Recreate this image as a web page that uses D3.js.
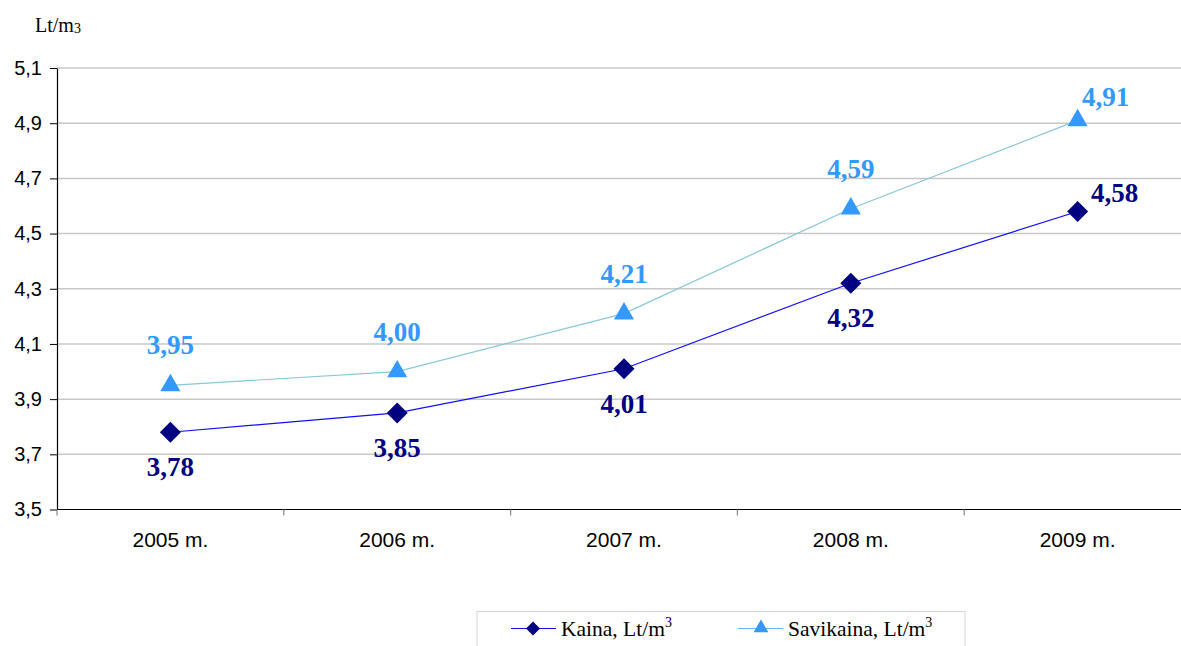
<!DOCTYPE html>
<html><head><meta charset="utf-8">
<script src="https://cdn.jsdelivr.net/npm/d3@7"></script>
<style>body{margin:0;background:#fff}svg{display:block}</style>
</head><body>
<svg id="c" width="1181" height="646"></svg>
<script>
const categories = ["2005 m.", "2006 m.", "2007 m.", "2008 m.", "2009 m."];
const kaina = [3.78, 3.85, 4.01, 4.32, 4.58];
const savikaina = [3.95, 4.00, 4.21, 4.59, 4.91];
const yTicks = [3.5, 3.7, 3.9, 4.1, 4.3, 4.5, 4.7, 4.9, 5.1];
const seriesNames = ["Kaina, Lt/m", "Savikaina, Lt/m"];

(function(){
const svg = d3.select("#c");
const pLeft = 57, pRight = 1191, pTop = 68, pBottom = 509.5;
const x = d3.scaleBand().domain(categories).range([pLeft, pRight]).padding(0);
const y = d3.scaleLinear().domain([3.5, 5.1]).range([pBottom, pTop]);
const fmt = v => v.toFixed(1).replace(".", ",");
const fmt2 = v => v.toFixed(2).replace(".", ",");
const sans = "'Liberation Sans', Arial, sans-serif";
const serif = "'Liberation Serif', 'Times New Roman', serif";

// gridlines
svg.append("g").selectAll("line").data(yTicks.filter(t => t > 3.5)).join("line")
  .attr("x1", pLeft).attr("x2", 1181).attr("y1", d => y(d)).attr("y2", d => y(d))
  .attr("stroke", "#c8c8c8").attr("stroke-width", 1.5);

// y axis
const ya = svg.append("g").attr("transform", `translate(${pLeft},0)`)
  .call(d3.axisLeft(y).tickValues(yTicks).tickFormat(fmt).tickSize(7).tickSizeOuter(0).tickPadding(8));
ya.select(".domain").attr("stroke", "#000").attr("stroke-width", 1.2);
ya.selectAll(".tick line").attr("stroke", "#000");
ya.selectAll("text").attr("font-family", sans).attr("font-size", 20).attr("fill", "#000");

// x axis
svg.append("line").attr("x1", pLeft).attr("x2", 1181).attr("y1", pBottom).attr("y2", pBottom)
  .attr("stroke", "#000").attr("stroke-width", 1.2);
const bounds = categories.map(c => x(c)).concat([x(categories[categories.length-1]) + x.bandwidth()]);
svg.append("g").selectAll("line").data(bounds).join("line")
  .attr("x1", d => d).attr("x2", d => d).attr("y1", pBottom).attr("y2", pBottom + 6)
  .attr("stroke", "#888").attr("stroke-width", 1.2);
svg.append("g").selectAll("text").data(categories).join("text")
  .attr("x", d => x(d) + x.bandwidth()/2).attr("y", 547)
  .attr("text-anchor", "middle")
  .attr("font-family", sans).attr("font-size", 21).attr("fill", "#000")
  .text(d => d);

// y title
const yt = svg.append("text").attr("x", 35).attr("y", 32)
  .attr("font-family", serif).attr("font-size", 20).attr("fill", "#000");
yt.append("tspan").text("Lt/m");
yt.append("tspan").attr("dy", 1).attr("font-size", 14).text("3");

const cx = d => x(d) + x.bandwidth()/2;
const line = d3.line().x(d => cx(d.c)).y(d => y(d.v));

const sData = categories.map((c, i) => ({c, v: savikaina[i]}));
const kData = categories.map((c, i) => ({c, v: kaina[i]}));

svg.append("path").datum(sData).attr("d", line).attr("fill", "none")
  .attr("stroke", "#88c8d8").attr("stroke-width", 1.2);
svg.append("path").datum(kData).attr("d", line).attr("fill", "none")
  .attr("stroke", "#1010f0").attr("stroke-width", 1.2);

const tri = d3.symbol().type(d3.symbolTriangle).size(175);
const dia = (s) => `M0,${-s}L${s},0L0,${s}L${-s},0Z`;

svg.append("g").selectAll("path").data(sData).join("path")
  .attr("transform", d => `translate(${cx(d.c)},${y(d.v)})`)
  .attr("d", tri()).attr("fill", "#3399ff");
svg.append("g").selectAll("path").data(kData).join("path")
  .attr("transform", d => `translate(${cx(d.c)},${y(d.v)})`)
  .attr("d", dia(10.5)).attr("fill", "#000080");

// data labels
svg.append("g").selectAll("text").data(sData).join("text")
  .attr("x", (d, i) => cx(d.c) + (i === 4 ? 28 : 0))
  .attr("y", (d, i) => y(d.v) + (i === 4 ? -14 : -31))
  .attr("text-anchor", "middle")
  .attr("font-family", serif).attr("font-weight", "bold").attr("font-size", 27)
  .attr("fill", "#3399ff").text(d => fmt2(d.v));
svg.append("g").selectAll("text").data(kData).join("text")
  .attr("x", (d, i) => cx(d.c) + (i === 4 ? 37 : 0))
  .attr("y", (d, i) => y(d.v) + (i === 4 ? -9 : 44))
  .attr("text-anchor", "middle")
  .attr("font-family", serif).attr("font-weight", "bold").attr("font-size", 27)
  .attr("fill", "#000080").text(d => fmt2(d.v));

// legend
const lg = svg.append("g");
lg.append("rect").attr("x", 477).attr("y", 611.5).attr("width", 488).attr("height", 45)
  .attr("fill", "#fff").attr("stroke", "#d4d4d4");
const legItems = [
  {name: seriesNames[0], lx: 511, line: "#1010f0", mark: "dia", fill: "#000080", tx: 561},
  {name: seriesNames[1], lx: 738, line: "#66b3ff", mark: "tri", fill: "#3399ff", tx: 788}
];
legItems.forEach(it => {
  lg.append("line").attr("x1", it.lx).attr("x2", it.lx + 45).attr("y1", 628.5).attr("y2", 628.5)
    .attr("stroke", it.line).attr("stroke-width", 1.2);
  if (it.mark === "dia") {
    lg.append("path").attr("transform", `translate(${it.lx+22},628.5)`).attr("d", dia(7)).attr("fill", it.fill);
  } else {
    lg.append("path").attr("transform", `translate(${it.lx+23},628)`).attr("d", d3.symbol().type(d3.symbolTriangle).size(95)()).attr("fill", it.fill);
  }
  const t = lg.append("text").attr("x", it.tx).attr("y", 636)
    .attr("font-family", serif).attr("font-size", 21.5).attr("fill", "#000");
  t.append("tspan").text(it.name);
  t.append("tspan").attr("dy", -9).attr("font-size", 14).text("3");
});
})();
</script>
</body></html>
